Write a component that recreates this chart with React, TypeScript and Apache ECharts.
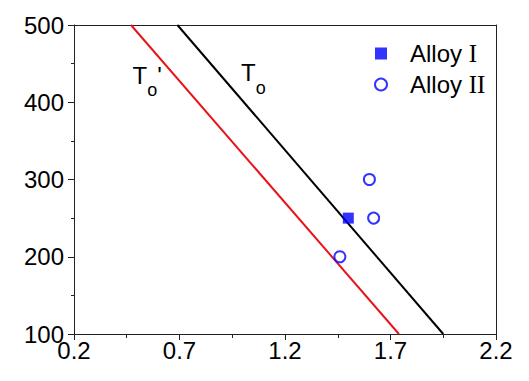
import React, { useEffect, useRef } from "react";
import * as echarts from "echarts";

const xTicks = [0.2, 0.7, 1.2, 1.7, 2.2];
const yTicks = [100, 200, 300, 400, 500];
const alloy1 = [[1.5, 250]];
const alloy2 = [
  [1.6, 300],
  [1.62, 250],
  [1.46, 200],
];
const lineTo = [
  [0.69, 500],
  [1.95, 100],
];
const lineToPrime = [
  [0.47, 500],
  [1.74, 100],
];

const SANS = "'Liberation Sans', Arial, sans-serif";
const SERIF = "'Liberation Serif', 'Times New Roman', serif";

const labelRich = {
  t: { fontFamily: SANS, fontSize: 24, lineHeight: 24, color: "#000", verticalAlign: "top" },
  s: { fontFamily: SANS, fontSize: 18, lineHeight: 36, color: "#000", verticalAlign: "bottom" },
  p: { fontFamily: SANS, fontSize: 24, lineHeight: 24, color: "#000", verticalAlign: "top" },
};

export default function App() {
  const ref = useRef<HTMLDivElement>(null);
  useEffect(() => {
    if (!ref.current) return;
    const chart = echarts.init(ref.current, null, { renderer: "svg" });
    const axisLine = { show: true, lineStyle: { color: "#222", width: 1 } };
    chart.setOption({
      animation: false,
      backgroundColor: "#fff",
      grid: { left: 74, top: 25, right: 33, bottom: 47 },
      xAxis: [
        {
          type: "value",
          min: xTicks[0],
          max: xTicks[xTicks.length - 1],
          interval: 0.5,
          axisLine,
          axisTick: { show: true, length: 6, inside: false, lineStyle: { color: "#222" } },
          minorTick: { show: true, splitNumber: 2, length: 4, lineStyle: { color: "#222" } },
          splitLine: { show: false },
          axisLabel: {
            fontFamily: SANS,
            fontSize: 24,
            color: "#000",
            margin: 4,
            formatter: (v: number) => v.toFixed(1),
          },
        },
        {
          type: "value",
          position: "top",
          min: xTicks[0],
          max: xTicks[xTicks.length - 1],
          axisLine,
          axisTick: { show: false },
          axisLabel: { show: false },
          splitLine: { show: false },
        },
      ],
      yAxis: [
        {
          type: "value",
          min: yTicks[0],
          max: yTicks[yTicks.length - 1],
          interval: 100,
          axisLine,
          axisTick: { show: true, length: 6, lineStyle: { color: "#222" } },
          minorTick: { show: true, splitNumber: 2, length: 3, lineStyle: { color: "#222" } },
          splitLine: { show: false },
          axisLabel: { fontFamily: SANS, fontSize: 24, color: "#000", margin: 10 },
        },
        {
          type: "value",
          position: "right",
          min: yTicks[0],
          max: yTicks[yTicks.length - 1],
          axisLine,
          axisTick: { show: false },
          axisLabel: { show: false },
          splitLine: { show: false },
        },
      ],
      legend: {
        data: ["Alloy I", "Alloy II"],
        orient: "vertical",
        left: 369,
        top: 36,
        itemWidth: 12,
        itemHeight: 12,
        itemGap: 6,
        selectedMode: false,
        formatter: (name: string) => {
          const num = name.replace("Alloy ", "");
          return "{a|Alloy }{b|" + num + "}";
        },
        textStyle: {
          rich: {
            a: { fontFamily: SANS, fontSize: 24, color: "#000", padding: [0, 0, 0, 18] },
            b: { fontFamily: SERIF, fontSize: 25, color: "#000" },
          },
        },
      },
      series: [
        {
          name: "To",
          type: "line",
          data: lineTo,
          symbol: "none",
          lineStyle: { color: "#000", width: 2 },
          z: 1,
        },
        {
          name: "To'",
          type: "line",
          data: lineToPrime,
          symbol: "none",
          lineStyle: { color: "#e8141a", width: 2 },
          z: 1,
        },
        {
          name: "Alloy I",
          type: "scatter",
          data: alloy1,
          symbol: "rect",
          symbolSize: 11,
          itemStyle: { color: "#0000ff" },
          z: 3,
        },
        {
          name: "Alloy II",
          type: "scatter",
          data: alloy2,
          symbol: "circle",
          symbolSize: 11,
          itemStyle: { color: "#fff", borderColor: "#0000ff", borderWidth: 2 },
          z: 3,
        },
      ],
      graphic: [
        {
          type: "text",
          x: 132.5,
          y: 63,
          style: { text: "{t|T}{s|o}{p|'}", rich: labelRich, align: "left", verticalAlign: "top" },
        },
        {
          type: "text",
          x: 241,
          y: 60.5,
          style: { text: "{t|T}{s|o}", rich: labelRich, align: "left", verticalAlign: "top" },
        },
      ],
    });
    return () => chart.dispose();
  }, []);
  return <div ref={ref} style={{ width: 529, height: 381, position: "absolute", left: 0, top: 0 }} />;
}
